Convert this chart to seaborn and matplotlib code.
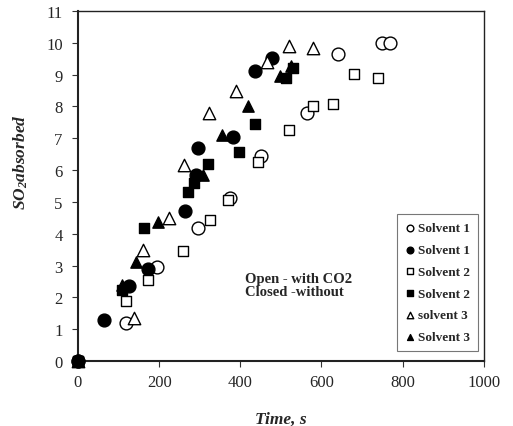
import matplotlib
matplotlib.use("Agg")
import matplotlib.pyplot as plt
import seaborn as sns
import pandas as pd

s1_open_t = [0, 118, 195, 296, 374, 451, 564, 640, 749, 768]
s1_open_y = [0, 1.19, 2.95, 4.17, 5.11, 6.43, 7.8, 9.65, 10.0, 10.0]

s1_fill_t = [0, 64, 126, 172, 264, 291, 296, 382, 436, 478]
s1_fill_y = [0, 1.28, 2.35, 2.9, 4.72, 5.86, 6.7, 7.05, 9.1, 9.53]

s2_open_t = [0, 118, 172, 259, 325, 369, 443, 519, 578, 628, 680, 739]
s2_open_y = [0, 1.88, 2.54, 3.45, 4.42, 5.05, 6.27, 7.25, 8.0, 8.08, 9.03, 8.9]

s2_fill_t = [0, 108, 163, 271, 285, 320, 397, 436, 512, 531]
s2_fill_y = [0, 2.22, 4.17, 5.3, 5.61, 6.2, 6.58, 7.45, 8.9, 9.2]

s3_open_t = [0, 138, 160, 224, 262, 322, 389, 465, 520, 579]
s3_open_y = [0, 1.35, 3.48, 4.48, 6.16, 7.78, 8.5, 9.4, 9.9, 9.84]

s3_fill_t = [0, 108, 143, 197, 308, 355, 419, 497, 525]
s3_fill_y = [0, 2.38, 3.1, 4.36, 5.86, 7.1, 8.0, 8.95, 9.27]

labels = ["Solvent 1", "Solvent 1", "Solvent 2", "Solvent 2", "solvent 3", "Solvent 3"]
x_ticks = [0, 200, 400, 600, 800, 1000]
y_ticks = list(range(0, 12))

sns.set_style("ticks")
plt.rcParams["font.family"] = ["Liberation Serif", "DejaVu Serif"]
plt.rcParams["mathtext.fontset"] = "custom"
plt.rcParams["mathtext.rm"] = "Liberation Serif:bold:italic"
plt.rcParams["mathtext.it"] = "Liberation Serif:bold:italic"
plt.rcParams["mathtext.bf"] = "Liberation Serif:bold:italic"
plt.rcParams["mathtext.default"] = "it"

fig = plt.figure(figsize=(5.13, 4.27), dpi=100)
ax = fig.add_axes([0.152, 0.152, 0.791, 0.82])

series = [
    (s1_open_t, s1_open_y, "o", "white", 85, 3),
    (s1_fill_t, s1_fill_y, "o", "black", 85, 3),
    (s2_open_t, s2_open_y, "s", "white", 50, 3),
    (s2_fill_t, s2_fill_y, "s", "black", 55, 4),
    (s3_open_t, s3_open_y, "^", "white", 80, 3),
    (s3_fill_t, s3_fill_y, "^", "black", 66, 3),
]

for (t, y, m, fc, s, z), lab in zip(series, labels):
    df = pd.DataFrame({"t": t, "y": y})
    sns.scatterplot(data=df, x="t", y="y", marker=m, s=s, facecolor=fc,
                    edgecolor="black", linewidth=1.0, ax=ax, label=lab,
                    clip_on=False, zorder=z)

ax.set_xlim(0, 1000)
ax.set_ylim(0, 11)
ax.set_xticks(x_ticks)
ax.set_yticks(y_ticks)
ax.tick_params(axis="y", labelsize=12, direction="out", length=4, width=0.8,
               color="#333333", pad=7)
ax.tick_params(axis="x", labelsize=12, direction="out", length=4, width=0.8,
               color="#333333", pad=5)
for sp in ax.spines.values():
    sp.set_visible(True)
    sp.set_color("#222222")
    sp.set_linewidth(1.0)
ax.spines["left"].set_linewidth(1.5)
ax.spines["bottom"].set_linewidth(1.5)

ax.set_xlabel("Time, s", fontsize=12.5, fontweight="bold", fontstyle="italic", labelpad=15)
ax.set_ylabel("SO$_2$absorbed", fontsize=12.5, fontweight="bold", fontstyle="italic")
ax.yaxis.set_label_coords(-0.118, 0.57)

ax.text(411, 2.8, "Open - with CO2\nClosed -without", fontsize=10.5, fontweight="bold",
        va="top", ha="left", linespacing=1.05)

leg = ax.legend(loc="lower right", bbox_to_anchor=(0.985, 0.029), frameon=True,
                fancybox=False, edgecolor="#555555", handletextpad=0.1,
                handlelength=0.9, markerscale=0.52, borderpad=0.6,
                labelspacing=0.72, prop={"family": "Liberation Serif", "weight": "bold", "size": 9.5},
                borderaxespad=0)
leg.get_frame().set_linewidth(0.8)
leg.set_zorder(10)

fig.savefig("out.png", dpi=100)
